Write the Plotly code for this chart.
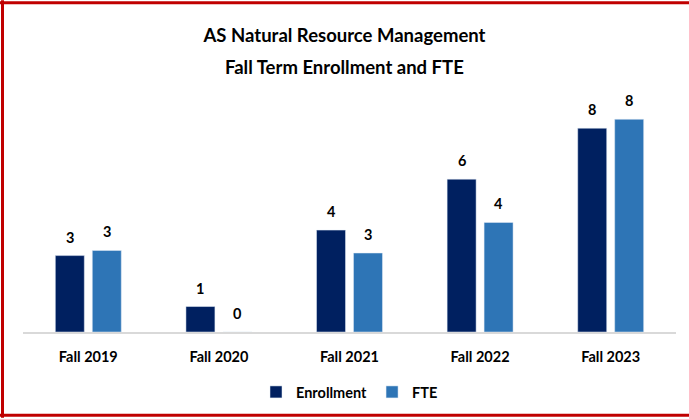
import plotly.graph_objects as go

categories = ["Fall 2019", "Fall 2020", "Fall 2021", "Fall 2022", "Fall 2023"]
enrollment = [3, 1, 4, 6, 8]
fte = [3.2, 0.0, 3.1, 4.3, 8.35]
title_lines = ["AS Natural Resource Management", "Fall Term Enrollment and FTE"]

NAVY = "#002060"
BLUE = "#2e75b6"
FONT = "Lato"

fig = go.Figure()
fig.add_trace(go.Bar(x=categories, y=enrollment, name="<b>Enrollment</b>",
                     marker=dict(color=NAVY), cliponaxis=False))
fig.add_trace(go.Bar(x=categories, y=fte, name="<b>FTE</b>",
                     marker=dict(color=BLUE), cliponaxis=False))

# plot-area geometry (pixels) used to place frame / text in paper coords
H_PLOT = 243.0
W_PLOT = 653.0
L, B_PIX = 23, 333
def px(xp):
    return (xp - L) / W_PLOT
def py(yp):
    return (B_PIX - yp) / H_PLOT

# value labels above each bar
annotations = []
for vals, shift in ((enrollment, -18.5), (fte, 18.5)):
    for c, v in zip(categories, vals):
        annotations.append(dict(
            x=c, y=v, xref="x", yref="y", text="<b>%d</b>" % round(v),
            showarrow=False, xanchor="center", yanchor="bottom",
            xshift=shift, yshift=8,
            font=dict(family=FONT, size=14.5, color="#000000"),
        ))
# second title line
annotations.append(dict(
    x=px(344.5), y=py(79.5), xref="paper", yref="paper",
    text="<b>%s</b>" % title_lines[1], showarrow=False,
    xanchor="center", yanchor="bottom",
    font=dict(family=FONT, size=18.5, color="#000000"),
))

red = dict(color="#c00000", width=3)
shapes = [
    dict(type="line", xref="paper", yref="paper", x0=px(0), x1=px(689), y0=py(2.5), y1=py(2.5), line=red),
    dict(type="line", xref="paper", yref="paper", x0=px(2.5), x1=px(2.5), y0=py(0), y1=py(419), line=red),
    dict(type="line", xref="paper", yref="paper", x0=px(0), x1=px(689), y0=py(416.5), y1=py(416.5), line=red),
]

fig.update_layout(
    width=689, height=419,
    margin=dict(l=23, r=13, t=90, b=86),
    paper_bgcolor="white", plot_bgcolor="white",
    barmode="group", bargap=0.434, bargroupgap=0.216,
    title=dict(
        text="<b>%s</b>" % title_lines[0],
        x=0.5, xref="container", xanchor="center",
        y=1 - 29 / 419, yref="container", yanchor="top",
        font=dict(family=FONT, size=18.5, color="#000000"),
    ),
    xaxis=dict(
        showgrid=False, showline=True, linecolor="#d9d9d9", linewidth=1.5,
        ticks="outside", ticklen=11, tickcolor="rgba(0,0,0,0)",
        tickfont=dict(family=FONT, size=14.5, color="#000000"),
        tickprefix="<b>", ticksuffix="</b>",
    ),
    yaxis=dict(range=[0, 9.5], visible=False, showgrid=False, zeroline=False),
    legend=dict(
        orientation="h", x=0.5, xanchor="center", y=py(392), yanchor="middle",
        font=dict(family=FONT, size=14.5, color="#000000"),
        itemwidth=30, traceorder="normal",
    ),
    annotations=annotations,
    shapes=shapes,
    font=dict(family=FONT),
)

fig.write_html("out.html", config={"displayModeBar": False},
               post_script="document.body.style.margin='0';document.body.style.padding='0';")
